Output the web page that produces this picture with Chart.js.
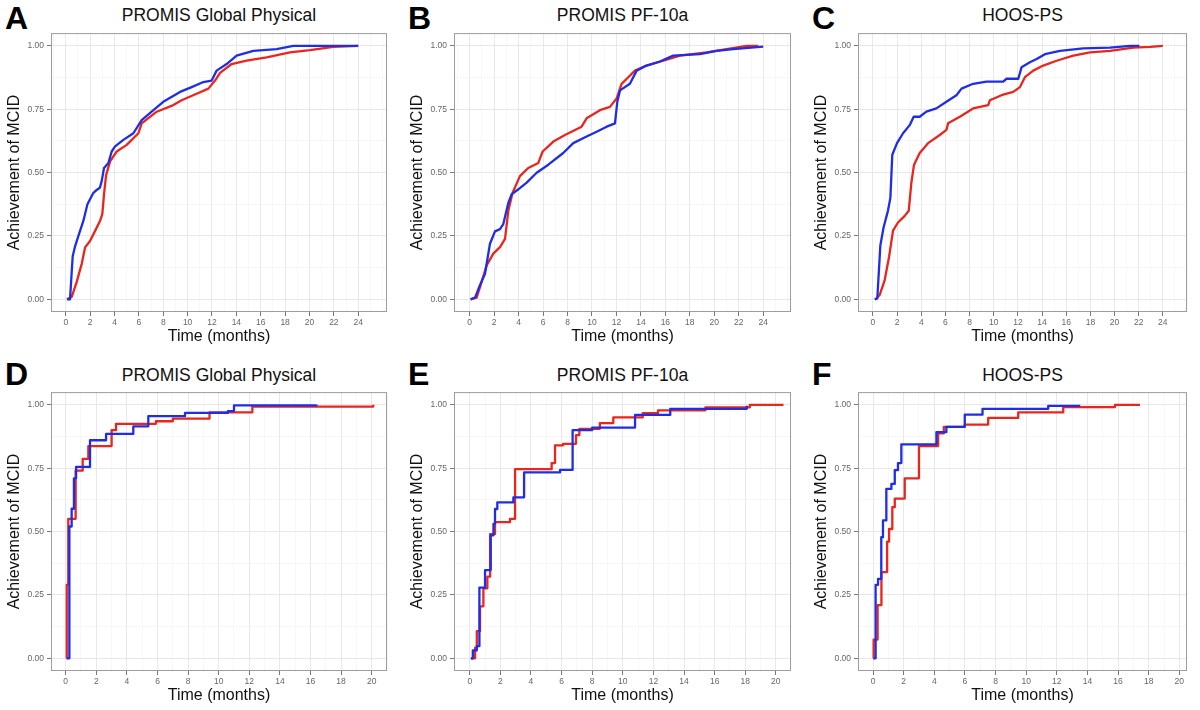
<!DOCTYPE html>
<html>
<head>
<meta charset="utf-8">
<script src="https://cdn.jsdelivr.net/npm/chart.js@4.4.1/dist/chart.umd.min.js"></script>
<style>
  body { margin: 0; background: #fff; width: 1200px; height: 710px; position: relative; overflow: hidden;
         font-family: "Liberation Sans", Arial, sans-serif; }
  .letter { position: absolute; font-weight: bold; font-size: 32px; line-height: 32px; color: #000; }
  .title { position: absolute; text-align: center; font-size: 17.5px; line-height: 18px; color: #111; }
  canvas { position: absolute; }
</style>
</head>
<body>
<script>
// Panel labels
const letters = ['A', 'B', 'C', 'D', 'E', 'F'];
const titles = ['PROMIS Global Physical', 'PROMIS PF-10a', 'HOOS-PS',
                'PROMIS Global Physical', 'PROMIS PF-10a', 'HOOS-PS'];
const yLabels = [0, 0.25, 0.5, 0.75, 1];
const xLabelsTop = [0, 2, 4, 6, 8, 10, 12, 14, 16, 18, 20, 22, 24];
const xLabelsBottom = [0, 2, 4, 6, 8, 10, 12, 14, 16, 18, 20];

// [time (months), achievement of MCID]
const aBlue = [[0.1,0],[0.35,0],[0.57,0.17],[0.77,0.21],[1.04,0.25],[1.45,0.31],[1.78,0.375],[2.27,0.42],[2.5,0.43],
  [2.8,0.44],[2.95,0.466],[3.14,0.518],[3.5,0.538],[3.77,0.583],[4.05,0.603],[4.73,0.629],[5.55,0.655],[6.23,0.707],
  [7.05,0.74],[8.0,0.779],[9.38,0.818],[10.33,0.837],[11.29,0.857],[11.97,0.863],[12.38,0.902],[13.2,0.928],
  [14.02,0.961],[15.39,0.98],[17.3,0.987],[18.67,1.0],[24,1.0]];
const aRed = [[0.1,0],[0.49,0.01],[0.9,0.069],[1.31,0.14],[1.59,0.205],[1.99,0.23],[2.41,0.27],[2.82,0.31],[3.0,0.336],
  [3.14,0.414],[3.31,0.49],[3.64,0.544],[4.18,0.583],[5.0,0.609],[5.96,0.655],[6.23,0.694],[7.46,0.74],[8.83,0.766],
  [9.51,0.785],[10.74,0.811],[11.7,0.831],[12.25,0.863],[12.66,0.893],[13.61,0.928],[14.84,0.941],[16.48,0.954],
  [18.4,0.974],[20.04,0.983],[21.95,0.996],[24,1.0]];

const bBlue = [[0.08,0],[0.44,0.007],[0.84,0.056],[1.25,0.1],[1.66,0.219],[2.07,0.268],[2.48,0.277],[2.75,0.297],
  [3.16,0.38],[3.43,0.414],[3.98,0.434],[4.66,0.46],[5.48,0.499],[6.43,0.531],[7.65,0.577],[8.47,0.616],[9.56,0.642],
  [10.38,0.661],[11.2,0.681],[11.88,0.694],[12.07,0.779],[12.29,0.824],[13.1,0.85],[13.65,0.902],[14.46,0.922],
  [15.55,0.938],[16.64,0.961],[18.82,0.967],[20.19,0.98],[21.55,0.987],[24,0.997]];
const bRed = [[0.08,0],[0.57,0.007],[0.98,0.069],[1.39,0.134],[1.93,0.18],[2.48,0.206],[2.89,0.238],[3.16,0.349],
  [3.51,0.42],[4.11,0.486],[4.79,0.518],[5.61,0.538],[5.97,0.583],[6.84,0.622],[7.79,0.648],[9.15,0.681],[9.56,0.714],
  [10.65,0.746],[11.47,0.759],[12.01,0.792],[12.42,0.85],[12.97,0.876],[13.51,0.902],[14.46,0.922],[15.83,0.941],
  [17.19,0.961],[19.37,0.974],[21.0,0.987],[22.64,1.0],[23.6,1.0]];

const cBlue = [[0.14,0],[0.36,0.004],[0.61,0.212],[0.88,0.284],[1.24,0.349],[1.44,0.4],[1.6,0.57],[1.99,0.616],
  [2.49,0.655],[3.04,0.687],[3.37,0.72],[3.87,0.72],[4.42,0.74],[5.25,0.753],[6.08,0.779],[6.91,0.805],[7.33,0.831],
  [8.29,0.85],[9.4,0.859],[10.78,0.859],[11.06,0.87],[12.03,0.87],[12.3,0.915],[12.99,0.935],[13.55,0.948],
  [14.24,0.967],[15.48,0.98],[17.42,0.99],[19.63,0.993],[21.29,1.0],[22.06,1.0]];
const cRed = [[0.22,0],[0.55,0.017],[0.97,0.076],[1.33,0.167],[1.66,0.271],[2.07,0.303],[2.63,0.329],[2.96,0.349],
  [3.18,0.46],[3.4,0.531],[3.87,0.577],[4.56,0.616],[5.53,0.648],[6.08,0.668],[6.22,0.694],[7.19,0.72],[8.29,0.753],
  [9.54,0.766],[9.68,0.785],[10.64,0.805],[11.61,0.818],[12.17,0.837],[12.58,0.876],[13.27,0.902],[14.1,0.922],
  [15.2,0.941],[16.59,0.961],[17.97,0.974],[19.63,0.98],[21.56,0.993],[22.95,0.996],[24.0,1.0]];

const dBlue = [[0.07,0],[0.24,0.52],[0.39,0.59],[0.54,0.71],[0.68,0.755],[1.59,0.86],[2.64,0.885],[4.42,0.915],
  [5.4,0.955],[7.8,0.968],[10.6,0.975],[11.0,0.998],[16.4,1.0]];
const dRed = [[0.05,0],[0.07,0.29],[0.17,0.55],[0.65,0.74],[1.11,0.787],[1.48,0.837],[3.0,0.9],[3.29,0.925],
  [5.9,0.935],[7.0,0.945],[9.4,0.97],[12.2,0.993],[20.1,1.0]];

const eBlue = [[0.07,0],[0.2,0.031],[0.46,0.048],[0.63,0.279],[1.0,0.348],[1.37,0.485],[1.55,0.53],[1.65,0.589],
  [1.8,0.615],[2.85,0.635],[3.55,0.733],[5.9,0.743],[6.72,0.9],[8.0,0.91],[10.8,0.96],[13.1,0.984],[18.1,0.996]];
const eRed = [[0.07,0],[0.35,0.042],[0.46,0.107],[0.67,0.205],[0.89,0.276],[1.15,0.322],[1.33,0.49],[1.65,0.537],
  [2.63,0.55],[2.96,0.746],[5.35,0.77],[5.57,0.84],[6.1,0.846],[6.94,0.88],[7.16,0.905],[8.5,0.928],[9.38,0.95],
  [11.3,0.967],[12.3,0.978],[15.4,0.99],[18.3,1.0],[20.5,1.0]];

const fBlue = [[0.04,0],[0.17,0.29],[0.33,0.313],[0.54,0.478],[0.65,0.544],[0.87,0.668],[1.2,0.688],[1.42,0.742],
  [1.63,0.77],[1.85,0.844],[4.14,0.892],[4.79,0.913],[5.99,0.961],[7.15,0.984],[11.44,0.996],[13.46,1.0]];
const fRed = [[0.02,0],[0.04,0.074],[0.3,0.21],[0.55,0.34],[0.92,0.46],[1.05,0.51],[1.26,0.596],[1.42,0.63],
  [2.07,0.71],[3.0,0.837],[4.25,0.887],[4.62,0.913],[5.99,0.922],[7.52,0.948],[9.48,0.97],[12.42,0.991],
  [15.8,1.0],[17.43,1.0]];

const RED = '#E8261E';
const BLUE = '#1F2EE6';

// box = plot area [left, top, width, height] on the page
const panels = [
  { box: [51, 31, 336, 281], xMin: -1.21, xMax: 26.36, xLabels: xLabelsTop, red: aRed, blue: aBlue, stepped: false },
  { box: [454, 31, 337, 281], xMin: -1.28, xMax: 26.27, xLabels: xLabelsTop, red: bRed, blue: bBlue, stepped: false },
  { box: [858, 31, 329, 281], xMin: -1.24, xMax: 26.0, xLabels: xLabelsTop, red: cRed, blue: cBlue, stepped: false },
  { box: [51, 390, 336, 281], xMin: -0.96, xMax: 21.0, xLabels: xLabelsBottom, red: dRed, blue: dBlue, stepped: true },
  { box: [454, 390, 337, 281], xMin: -1.03, xMax: 20.99, xLabels: xLabelsBottom, red: eRed, blue: eBlue, stepped: true },
  { box: [858, 390, 329, 281], xMin: -0.98, xMax: 20.5, xLabels: xLabelsBottom, red: fRed, blue: fBlue, stepped: true }
];

// grey frame round the plot area
const panelBorder = {
  id: 'panelBorder',
  afterDraw(chart) {
    const a = chart.chartArea, c = chart.ctx;
    c.save();
    c.strokeStyle = '#9d9d9d';
    c.lineWidth = 1;
    c.strokeRect(a.left + 0.5, a.top + 0.5, a.width - 1, a.height - 1);
    c.restore();
  }
};

const yAll = [];
for (let k = 0; k <= 8; k++) yAll.push(k * 0.125);
const yMajor = v => yLabels.some(l => Math.abs(l - v) < 1e-6);

panels.forEach((p, i) => {
  const [bx, by, bw, bh] = p.box;
  const row = i < 3 ? 0 : 1;

  const letter = document.createElement('div');
  letter.className = 'letter';
  letter.textContent = letters[i];
  letter.style.left = (bx - 46) + 'px';
  letter.style.top = [2, 358][row] + 'px';
  document.body.appendChild(letter);

  const title = document.createElement('div');
  title.className = 'title';
  title.textContent = titles[i];
  title.style.left = bx + 'px';
  title.style.width = bw + 'px';
  title.style.top = [6, 366][row] + 'px';
  document.body.appendChild(title);

  const cv = document.createElement('canvas');
  cv.width = 51 + bw + 8;
  cv.height = 6 + bh + 38;
  cv.style.left = (bx - 51) + 'px';
  cv.style.top = (by - 6) + 'px';
  document.body.appendChild(cv);

  const xAll = [];
  for (let v = Math.ceil(p.xMin); v <= p.xMax; v++) xAll.push(v);
  const xMajor = v => p.xLabels.includes(v);

  new Chart(cv, {
    type: 'line',
    data: {
      datasets: [
        { data: p.blue.map(([x, y]) => ({ x, y })), borderColor: BLUE, stepped: p.stepped },
        { data: p.red.map(([x, y]) => ({ x, y })), borderColor: RED, stepped: p.stepped }
      ]
    },
    options: {
      responsive: false,
      animation: false,
      layout: { padding: { top: 6, right: 8, left: 0, bottom: 0 } },
      elements: {
        point: { radius: 0 },
        line: { borderWidth: 2.3, tension: 0, fill: false, borderJoinStyle: 'round' }
      },
      plugins: { legend: { display: false }, tooltip: { enabled: false } },
      scales: {
        x: {
          type: 'linear',
          min: p.xMin,
          max: p.xMax,
          afterBuildTicks: s => { s.ticks = xAll.map(v => ({ value: v })); },
          afterFit: s => { s.height = 38; },
          ticks: {
            autoSkip: false, maxRotation: 0, padding: 2,
            color: '#666', font: { family: 'Liberation Sans', size: 8.5 },
            callback: v => xMajor(v) ? String(v) : ''
          },
          grid: {
            color: c => xMajor(c.tick.value) ? '#E8E8E8' : '#F3F3F3',
            lineWidth: c => xMajor(c.tick.value) ? 1 : 0.7,
            tickLength: 4,
            tickColor: c => xMajor(c.tick.value) ? '#777' : 'rgba(0,0,0,0)'
          },
          border: { display: false },
          title: {
            display: true, text: 'Time (months)', color: '#111', padding: { top: 0, bottom: 4 },
            font: { family: 'Liberation Sans', size: 16 }
          }
        },
        y: {
          type: 'linear',
          min: -0.05,
          max: 1.05,
          afterBuildTicks: s => { s.ticks = yAll.map(v => ({ value: v })); },
          afterFit: s => { s.width = 51; },
          ticks: {
            autoSkip: false, padding: 3,
            color: '#666', font: { family: 'Liberation Sans', size: 8.5 },
            callback: v => yMajor(v) ? v.toFixed(2) : ''
          },
          grid: {
            color: c => yMajor(c.tick.value) ? '#E8E8E8' : '#F3F3F3',
            lineWidth: c => yMajor(c.tick.value) ? 1 : 0.7,
            tickLength: 4,
            tickColor: c => yMajor(c.tick.value) ? '#777' : 'rgba(0,0,0,0)'
          },
          border: { display: false },
          title: {
            display: true, text: 'Achievement of MCID', color: '#111', padding: { top: 5, bottom: 0 },
            font: { family: 'Liberation Sans', size: 16 }
          }
        }
      }
    },
    plugins: [panelBorder]
  });
});
</script>
</body>
</html>
